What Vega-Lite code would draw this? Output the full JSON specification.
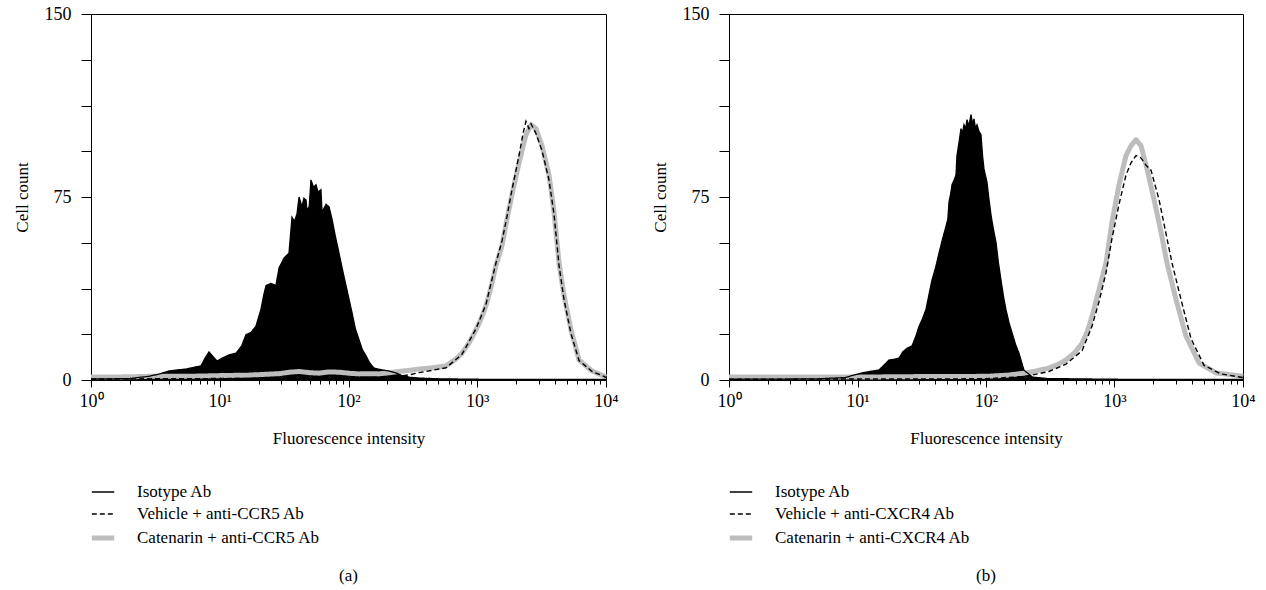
{
  "$schema": "https://vega.github.io/schema/vega-lite/v6.json",
  "background": "white",
  "padding": {"left": 12, "top": 4, "right": 10, "bottom": 5},
  "config": {
    "font": "Liberation Serif",
    "view": {"stroke": "#000", "strokeWidth": 1},
    "axis": {"domainColor": "#000", "tickColor": "#000", "labelColor": "#000", "titleColor": "#000", "labelFontSize": 18, "titleFontSize": 17, "titleFontWeight": "normal", "labelFont": "Liberation Serif", "titleFont": "Liberation Serif", "domainWidth": 1, "tickWidth": 1, "grid": false},
    "legend": {"symbolType": "stroke", "symbolSize": 500, "labelFontSize": 17, "labelOffset": 20, "rowPadding": 2, "labelColor": "#000", "labelFont": "Liberation Serif", "labelLimit": 400, "symbolOpacity": 1},
    "title": {"fontSize": 17, "fontWeight": "normal", "font": "Liberation Serif", "color": "#000"}
  },
  "datasets": {
    "a": [
      {"x":1,"y":0.4,"s":"Isotype Ab"},{"x":1.5,"y":0.5,"s":"Isotype Ab"},{"x":2,"y":0.6,"s":"Isotype Ab"},{"x":2.5,"y":1.2,"s":"Isotype Ab"},{"x":2.82,"y":1.5,"s":"Isotype Ab"},{"x":3.4,"y":2.5,"s":"Isotype Ab"},{"x":4.03,"y":3.7,"s":"Isotype Ab"},{"x":4.8,"y":4.2,"s":"Isotype Ab"},{"x":5.5,"y":4.5,"s":"Isotype Ab"},{"x":6.3,"y":5.2,"s":"Isotype Ab"},{"x":7.15,"y":5.8,"s":"Isotype Ab"},{"x":7.7,"y":9,"s":"Isotype Ab"},{"x":8.25,"y":11.5,"s":"Isotype Ab"},{"x":8.9,"y":9.5,"s":"Isotype Ab"},{"x":9.52,"y":7.8,"s":"Isotype Ab"},{"x":10.5,"y":9,"s":"Isotype Ab"},{"x":11.8,"y":10.3,"s":"Isotype Ab"},{"x":13.4,"y":11,"s":"Isotype Ab"},{"x":14.8,"y":14,"s":"Isotype Ab"},{"x":16,"y":18.6,"s":"Isotype Ab"},{"x":17.5,"y":19.5,"s":"Isotype Ab"},{"x":19.1,"y":22,"s":"Isotype Ab"},{"x":20.9,"y":29,"s":"Isotype Ab"},{"x":22,"y":35,"s":"Isotype Ab"},{"x":22.9,"y":38.7,"s":"Isotype Ab"},{"x":25,"y":39.6,"s":"Isotype Ab"},{"x":27.3,"y":38.7,"s":"Isotype Ab"},{"x":28.9,"y":46,"s":"Isotype Ab"},{"x":31.6,"y":50,"s":"Isotype Ab"},{"x":34.5,"y":52,"s":"Isotype Ab"},{"x":36.4,"y":66.7,"s":"Isotype Ab"},{"x":38,"y":65,"s":"Isotype Ab"},{"x":39.8,"y":68,"s":"Isotype Ab"},{"x":41.3,"y":75,"s":"Isotype Ab"},{"x":43.5,"y":71,"s":"Isotype Ab"},{"x":45,"y":74.5,"s":"Isotype Ab"},{"x":46.8,"y":73.7,"s":"Isotype Ab"},{"x":47.6,"y":69.6,"s":"Isotype Ab"},{"x":49.5,"y":71,"s":"Isotype Ab"},{"x":51.1,"y":82,"s":"Isotype Ab"},{"x":53.5,"y":79,"s":"Isotype Ab"},{"x":55.9,"y":80,"s":"Isotype Ab"},{"x":58,"y":77,"s":"Isotype Ab"},{"x":61.1,"y":78,"s":"Isotype Ab"},{"x":62.3,"y":68.8,"s":"Isotype Ab"},{"x":66.9,"y":72,"s":"Isotype Ab"},{"x":70.6,"y":71,"s":"Isotype Ab"},{"x":74.4,"y":66,"s":"Isotype Ab"},{"x":79,"y":59,"s":"Isotype Ab"},{"x":84.4,"y":52,"s":"Isotype Ab"},{"x":90,"y":45,"s":"Isotype Ab"},{"x":95.6,"y":38.7,"s":"Isotype Ab"},{"x":106.5,"y":27.6,"s":"Isotype Ab"},{"x":113,"y":21,"s":"Isotype Ab"},{"x":120.7,"y":16.5,"s":"Isotype Ab"},{"x":128,"y":12.5,"s":"Isotype Ab"},{"x":136.8,"y":9.9,"s":"Isotype Ab"},{"x":146,"y":7,"s":"Isotype Ab"},{"x":157.8,"y":4.9,"s":"Isotype Ab"},{"x":180,"y":4.2,"s":"Isotype Ab"},{"x":206.4,"y":3.7,"s":"Isotype Ab"},{"x":233.8,"y":2.9,"s":"Isotype Ab"},{"x":260,"y":1.8,"s":"Isotype Ab"},{"x":300,"y":1.1,"s":"Isotype Ab"},{"x":350,"y":0.8,"s":"Isotype Ab"},{"x":500,"y":0.5,"s":"Isotype Ab"},{"x":1000,"y":0.3,"s":"Isotype Ab"},{"x":3000,"y":0.2,"s":"Isotype Ab"},{"x":10000,"y":0.2,"s":"Isotype Ab"},
      {"x":1,"y":1.2,"s":"Catenarin + anti-CCR5 Ab"},{"x":2,"y":1.3,"s":"Catenarin + anti-CCR5 Ab"},{"x":2.82,"y":1.5,"s":"Catenarin + anti-CCR5 Ab"},{"x":5,"y":1.5,"s":"Catenarin + anti-CCR5 Ab"},{"x":6.9,"y":1.6,"s":"Catenarin + anti-CCR5 Ab"},{"x":10,"y":1.8,"s":"Catenarin + anti-CCR5 Ab"},{"x":16.8,"y":2,"s":"Catenarin + anti-CCR5 Ab"},{"x":22,"y":2.3,"s":"Catenarin + anti-CCR5 Ab"},{"x":28.9,"y":2.6,"s":"Catenarin + anti-CCR5 Ab"},{"x":35,"y":3.2,"s":"Catenarin + anti-CCR5 Ab"},{"x":41.3,"y":3.5,"s":"Catenarin + anti-CCR5 Ab"},{"x":50,"y":3,"s":"Catenarin + anti-CCR5 Ab"},{"x":59,"y":2.8,"s":"Catenarin + anti-CCR5 Ab"},{"x":70,"y":3.3,"s":"Catenarin + anti-CCR5 Ab"},{"x":84.4,"y":3.2,"s":"Catenarin + anti-CCR5 Ab"},{"x":100,"y":2.8,"s":"Catenarin + anti-CCR5 Ab"},{"x":120.7,"y":2.5,"s":"Catenarin + anti-CCR5 Ab"},{"x":150,"y":2.6,"s":"Catenarin + anti-CCR5 Ab"},{"x":172,"y":2.5,"s":"Catenarin + anti-CCR5 Ab"},{"x":210,"y":3,"s":"Catenarin + anti-CCR5 Ab"},{"x":246,"y":3.5,"s":"Catenarin + anti-CCR5 Ab"},{"x":300,"y":4,"s":"Catenarin + anti-CCR5 Ab"},{"x":353,"y":4.5,"s":"Catenarin + anti-CCR5 Ab"},{"x":450,"y":5,"s":"Catenarin + anti-CCR5 Ab"},{"x":571.9,"y":5.8,"s":"Catenarin + anti-CCR5 Ab"},{"x":680,"y":8.5,"s":"Catenarin + anti-CCR5 Ab"},{"x":761.5,"y":11,"s":"Catenarin + anti-CCR5 Ab"},{"x":870,"y":15.5,"s":"Catenarin + anti-CCR5 Ab"},{"x":977.9,"y":20.6,"s":"Catenarin + anti-CCR5 Ab"},{"x":1070,"y":25,"s":"Catenarin + anti-CCR5 Ab"},{"x":1169.5,"y":30.5,"s":"Catenarin + anti-CCR5 Ab"},{"x":1280,"y":38,"s":"Catenarin + anti-CCR5 Ab"},{"x":1398.3,"y":47,"s":"Catenarin + anti-CCR5 Ab"},{"x":1556.6,"y":55,"s":"Catenarin + anti-CCR5 Ab"},{"x":1702.5,"y":66,"s":"Catenarin + anti-CCR5 Ab"},{"x":1861.9,"y":76,"s":"Catenarin + anti-CCR5 Ab"},{"x":2110,"y":89,"s":"Catenarin + anti-CCR5 Ab"},{"x":2390,"y":100.5,"s":"Catenarin + anti-CCR5 Ab"},{"x":2615.6,"y":104.6,"s":"Catenarin + anti-CCR5 Ab"},{"x":2860,"y":103,"s":"Catenarin + anti-CCR5 Ab"},{"x":3184,"y":96,"s":"Catenarin + anti-CCR5 Ab"},{"x":3608,"y":84,"s":"Catenarin + anti-CCR5 Ab"},{"x":3946,"y":69,"s":"Catenarin + anti-CCR5 Ab"},{"x":4315,"y":48,"s":"Catenarin + anti-CCR5 Ab"},{"x":4719,"y":34.6,"s":"Catenarin + anti-CCR5 Ab"},{"x":5348,"y":20.6,"s":"Catenarin + anti-CCR5 Ab"},{"x":6172,"y":8.2,"s":"Catenarin + anti-CCR5 Ab"},{"x":7786,"y":3.7,"s":"Catenarin + anti-CCR5 Ab"},{"x":9649,"y":1.6,"s":"Catenarin + anti-CCR5 Ab"},{"x":10000,"y":1.2,"s":"Catenarin + anti-CCR5 Ab"},
      {"x":1,"y":0.4,"s":"Vehicle + anti-CCR5 Ab"},{"x":3,"y":0.5,"s":"Vehicle + anti-CCR5 Ab"},{"x":10,"y":0.6,"s":"Vehicle + anti-CCR5 Ab"},{"x":30,"y":0.7,"s":"Vehicle + anti-CCR5 Ab"},{"x":100,"y":0.6,"s":"Vehicle + anti-CCR5 Ab"},{"x":200,"y":1.2,"s":"Vehicle + anti-CCR5 Ab"},{"x":246,"y":1.5,"s":"Vehicle + anti-CCR5 Ab"},{"x":300,"y":2.2,"s":"Vehicle + anti-CCR5 Ab"},{"x":353,"y":3,"s":"Vehicle + anti-CCR5 Ab"},{"x":450,"y":4,"s":"Vehicle + anti-CCR5 Ab"},{"x":572,"y":5,"s":"Vehicle + anti-CCR5 Ab"},{"x":761,"y":10.5,"s":"Vehicle + anti-CCR5 Ab"},{"x":978,"y":21,"s":"Vehicle + anti-CCR5 Ab"},{"x":1169,"y":31,"s":"Vehicle + anti-CCR5 Ab"},{"x":1398,"y":48,"s":"Vehicle + anti-CCR5 Ab"},{"x":1557,"y":57,"s":"Vehicle + anti-CCR5 Ab"},{"x":1702,"y":67,"s":"Vehicle + anti-CCR5 Ab"},{"x":1862,"y":78,"s":"Vehicle + anti-CCR5 Ab"},{"x":2110,"y":92,"s":"Vehicle + anti-CCR5 Ab"},{"x":2266,"y":101,"s":"Vehicle + anti-CCR5 Ab"},{"x":2390,"y":106,"s":"Vehicle + anti-CCR5 Ab"},{"x":2522,"y":103,"s":"Vehicle + anti-CCR5 Ab"},{"x":2616,"y":105,"s":"Vehicle + anti-CCR5 Ab"},{"x":2860,"y":101,"s":"Vehicle + anti-CCR5 Ab"},{"x":3184,"y":94,"s":"Vehicle + anti-CCR5 Ab"},{"x":3608,"y":82,"s":"Vehicle + anti-CCR5 Ab"},{"x":3946,"y":68,"s":"Vehicle + anti-CCR5 Ab"},{"x":4315,"y":47,"s":"Vehicle + anti-CCR5 Ab"},{"x":4719,"y":33,"s":"Vehicle + anti-CCR5 Ab"},{"x":5348,"y":19,"s":"Vehicle + anti-CCR5 Ab"},{"x":6172,"y":8,"s":"Vehicle + anti-CCR5 Ab"},{"x":7786,"y":3.5,"s":"Vehicle + anti-CCR5 Ab"},{"x":9649,"y":1.5,"s":"Vehicle + anti-CCR5 Ab"},{"x":10000,"y":1,"s":"Vehicle + anti-CCR5 Ab"}
    ],
    "b": [
      {"x":1,"y":0.3,"s":"Isotype Ab"},{"x":3,"y":0.4,"s":"Isotype Ab"},{"x":5,"y":0.5,"s":"Isotype Ab"},{"x":8,"y":1,"s":"Isotype Ab"},{"x":10.84,"y":2.9,"s":"Isotype Ab"},{"x":12.5,"y":3.5,"s":"Isotype Ab"},{"x":14.7,"y":4.1,"s":"Isotype Ab"},{"x":16,"y":6,"s":"Isotype Ab"},{"x":17.59,"y":8.2,"s":"Isotype Ab"},{"x":19.5,"y":8.5,"s":"Isotype Ab"},{"x":21.04,"y":9,"s":"Isotype Ab"},{"x":22.5,"y":11.5,"s":"Isotype Ab"},{"x":24.28,"y":13,"s":"Isotype Ab"},{"x":26.56,"y":14,"s":"Isotype Ab"},{"x":28.5,"y":18,"s":"Isotype Ab"},{"x":30.11,"y":22,"s":"Isotype Ab"},{"x":32,"y":25,"s":"Isotype Ab"},{"x":34.13,"y":29,"s":"Isotype Ab"},{"x":36,"y":35,"s":"Isotype Ab"},{"x":38,"y":41,"s":"Isotype Ab"},{"x":40.5,"y":46,"s":"Isotype Ab"},{"x":43.08,"y":52,"s":"Isotype Ab"},{"x":46,"y":58,"s":"Isotype Ab"},{"x":48.85,"y":63,"s":"Isotype Ab"},{"x":50.5,"y":66,"s":"Isotype Ab"},{"x":51.54,"y":73,"s":"Isotype Ab"},{"x":53,"y":76,"s":"Isotype Ab"},{"x":54.38,"y":80,"s":"Isotype Ab"},{"x":56.5,"y":82,"s":"Isotype Ab"},{"x":58.41,"y":84,"s":"Isotype Ab"},{"x":59.47,"y":92,"s":"Isotype Ab"},{"x":61.5,"y":97,"s":"Isotype Ab"},{"x":63.89,"y":103,"s":"Isotype Ab"},{"x":65.5,"y":101,"s":"Isotype Ab"},{"x":67.42,"y":104.6,"s":"Isotype Ab"},{"x":69.5,"y":103,"s":"Isotype Ab"},{"x":71.14,"y":106.7,"s":"Isotype Ab"},{"x":73.5,"y":104,"s":"Isotype Ab"},{"x":76.43,"y":108.8,"s":"Isotype Ab"},{"x":78.5,"y":105,"s":"Isotype Ab"},{"x":80.65,"y":107,"s":"Isotype Ab"},{"x":83,"y":103,"s":"Isotype Ab"},{"x":85.11,"y":104.6,"s":"Isotype Ab"},{"x":88,"y":102,"s":"Isotype Ab"},{"x":91.43,"y":100.5,"s":"Isotype Ab"},{"x":94,"y":92,"s":"Isotype Ab"},{"x":96.47,"y":86.5,"s":"Isotype Ab"},{"x":101.8,"y":81,"s":"Isotype Ab"},{"x":105.5,"y":74,"s":"Isotype Ab"},{"x":109.4,"y":67.6,"s":"Isotype Ab"},{"x":114,"y":62,"s":"Isotype Ab"},{"x":119.6,"y":56.4,"s":"Isotype Ab"},{"x":125,"y":48,"s":"Isotype Ab"},{"x":130.8,"y":41,"s":"Isotype Ab"},{"x":137,"y":34,"s":"Isotype Ab"},{"x":143.1,"y":28.8,"s":"Isotype Ab"},{"x":151,"y":23.5,"s":"Isotype Ab"},{"x":159.4,"y":19.4,"s":"Isotype Ab"},{"x":170,"y":14.5,"s":"Isotype Ab"},{"x":180.6,"y":11,"s":"Isotype Ab"},{"x":190,"y":7,"s":"Isotype Ab"},{"x":197.6,"y":4,"s":"Isotype Ab"},{"x":208.5,"y":3,"s":"Isotype Ab"},{"x":230,"y":1.2,"s":"Isotype Ab"},{"x":300,"y":0.6,"s":"Isotype Ab"},{"x":1000,"y":0.3,"s":"Isotype Ab"},{"x":10000,"y":0.2,"s":"Isotype Ab"},
      {"x":1,"y":1.2,"s":"Catenarin + anti-CXCR4 Ab"},{"x":3,"y":1.2,"s":"Catenarin + anti-CXCR4 Ab"},{"x":10,"y":1.2,"s":"Catenarin + anti-CXCR4 Ab"},{"x":30,"y":1.4,"s":"Catenarin + anti-CXCR4 Ab"},{"x":100,"y":1.5,"s":"Catenarin + anti-CXCR4 Ab"},{"x":150,"y":2,"s":"Catenarin + anti-CXCR4 Ab"},{"x":204.8,"y":2.9,"s":"Catenarin + anti-CXCR4 Ab"},{"x":250,"y":3.8,"s":"Catenarin + anti-CXCR4 Ab"},{"x":309.3,"y":4.9,"s":"Catenarin + anti-CXCR4 Ab"},{"x":360,"y":6.3,"s":"Catenarin + anti-CXCR4 Ab"},{"x":419.4,"y":8.2,"s":"Catenarin + anti-CXCR4 Ab"},{"x":490,"y":11.2,"s":"Catenarin + anti-CXCR4 Ab"},{"x":558.5,"y":15,"s":"Catenarin + anti-CXCR4 Ab"},{"x":615,"y":20,"s":"Catenarin + anti-CXCR4 Ab"},{"x":668.2,"y":26,"s":"Catenarin + anti-CXCR4 Ab"},{"x":757.5,"y":37,"s":"Catenarin + anti-CXCR4 Ab"},{"x":858.9,"y":48,"s":"Catenarin + anti-CXCR4 Ab"},{"x":956.2,"y":64.7,"s":"Catenarin + anti-CXCR4 Ab"},{"x":1084,"y":80,"s":"Catenarin + anti-CXCR4 Ab"},{"x":1229,"y":92,"s":"Catenarin + anti-CXCR4 Ab"},{"x":1344,"y":96,"s":"Catenarin + anti-CXCR4 Ab"},{"x":1470,"y":98.5,"s":"Catenarin + anti-CXCR4 Ab"},{"x":1608,"y":96,"s":"Catenarin + anti-CXCR4 Ab"},{"x":1790,"y":86.5,"s":"Catenarin + anti-CXCR4 Ab"},{"x":2030,"y":74,"s":"Catenarin + anti-CXCR4 Ab"},{"x":2301,"y":60.6,"s":"Catenarin + anti-CXCR4 Ab"},{"x":2562,"y":48,"s":"Catenarin + anti-CXCR4 Ab"},{"x":3011,"y":33,"s":"Catenarin + anti-CXCR4 Ab"},{"x":3600,"y":18,"s":"Catenarin + anti-CXCR4 Ab"},{"x":4546,"y":7,"s":"Catenarin + anti-CXCR4 Ab"},{"x":6166,"y":2.9,"s":"Catenarin + anti-CXCR4 Ab"},{"x":9822,"y":1.6,"s":"Catenarin + anti-CXCR4 Ab"},{"x":10000,"y":1.5,"s":"Catenarin + anti-CXCR4 Ab"},
      {"x":1,"y":0.3,"s":"Vehicle + anti-CXCR4 Ab"},{"x":10,"y":0.4,"s":"Vehicle + anti-CXCR4 Ab"},{"x":100,"y":0.5,"s":"Vehicle + anti-CXCR4 Ab"},{"x":205,"y":1.5,"s":"Vehicle + anti-CXCR4 Ab"},{"x":309,"y":3.5,"s":"Vehicle + anti-CXCR4 Ab"},{"x":419,"y":6.5,"s":"Vehicle + anti-CXCR4 Ab"},{"x":559,"y":12,"s":"Vehicle + anti-CXCR4 Ab"},{"x":668,"y":22,"s":"Vehicle + anti-CXCR4 Ab"},{"x":757,"y":32,"s":"Vehicle + anti-CXCR4 Ab"},{"x":859,"y":44,"s":"Vehicle + anti-CXCR4 Ab"},{"x":956,"y":58,"s":"Vehicle + anti-CXCR4 Ab"},{"x":1084,"y":72,"s":"Vehicle + anti-CXCR4 Ab"},{"x":1229,"y":84,"s":"Vehicle + anti-CXCR4 Ab"},{"x":1344,"y":89,"s":"Vehicle + anti-CXCR4 Ab"},{"x":1470,"y":92,"s":"Vehicle + anti-CXCR4 Ab"},{"x":1608,"y":91,"s":"Vehicle + anti-CXCR4 Ab"},{"x":1759,"y":88,"s":"Vehicle + anti-CXCR4 Ab"},{"x":1923,"y":86,"s":"Vehicle + anti-CXCR4 Ab"},{"x":2220,"y":74,"s":"Vehicle + anti-CXCR4 Ab"},{"x":2516,"y":60,"s":"Vehicle + anti-CXCR4 Ab"},{"x":2802,"y":48,"s":"Vehicle + anti-CXCR4 Ab"},{"x":3293,"y":33,"s":"Vehicle + anti-CXCR4 Ab"},{"x":3938,"y":17,"s":"Vehicle + anti-CXCR4 Ab"},{"x":4972,"y":6,"s":"Vehicle + anti-CXCR4 Ab"},{"x":6743,"y":2.5,"s":"Vehicle + anti-CXCR4 Ab"},{"x":10000,"y":1,"s":"Vehicle + anti-CXCR4 Ab"}
    ]
  },
  "spacing": 123,
  "bounds": "flush",
  "resolve": {
    "scale": {"color": "independent", "strokeDash": "independent", "strokeWidth": "independent"},
    "legend": {"color": "independent", "strokeDash": "independent", "strokeWidth": "independent"}
  },
  "hconcat": [
    {
      "width": 515, "height": 366,
      "data": {"name": "a"},
      "title": {"text": "(a)", "orient": "bottom", "offset": 20},
      "encoding": {
        "x": {"field": "x", "type": "quantitative", "scale": {"type": "log", "domain": [1, 10000], "nice": false},
          "axis": {"title": "Fluorescence intensity", "orient": "bottom", "values": [1, 10, 100, 1000, 10000], "labelExpr": "datum.value == 1 ? '10⁰' : datum.value == 10 ? '10¹' : datum.value == 100 ? '10²' : datum.value == 1000 ? '10³' : '10⁴'", "tickSize": 7, "labelPadding": 5, "titlePadding": 20, "labelFlush": false, "labelOverlap": false}},
        "y": {"field": "y", "type": "quantitative", "scale": {"domain": [0, 150], "nice": false},
          "axis": {"title": "Cell count", "values": [0, 18.75, 37.5, 56.25, 75, 93.75, 112.5, 131.25, 150], "labelExpr": "datum.value % 75 == 0 ? format(datum.value, 'd') : ''", "tickSize": 10, "labelPadding": 10, "titlePadding": 13, "labelOverlap": false}}
      },
      "layer": [
        {"transform": [{"filter": {"field": "s", "equal": "Isotype Ab"}}], "mark": {"type": "area", "color": "#000000", "interpolate": "linear"}},
        {"transform": [{"filter": {"field": "s", "equal": "Catenarin + anti-CCR5 Ab"}}], "mark": {"type": "line", "strokeJoin": "round"},
          "encoding": {
            "x": {"field": "x", "type": "quantitative", "scale": {"type": "log", "domain": [1, 10000], "nice": false},
              "axis": {"orient": "bottom", "values": [2,3,4,5,6,7,8,9,20,30,40,50,60,70,80,90,200,300,400,500,600,700,800,900,2000,3000,4000,5000,6000,7000,8000,9000], "labels": false, "domain": false, "title": null, "tickSize": 4}},
            "color": {"field": "s", "type": "nominal", "scale": {"domain": ["Isotype Ab", "Vehicle + anti-CCR5 Ab", "Catenarin + anti-CCR5 Ab"], "range": ["#000000", "#000000", "#bdbdbd"]}, "legend": {"title": null, "orient": "none", "legendX": -2, "legendY": 466}},
            "strokeDash": {"field": "s", "type": "nominal", "scale": {"domain": ["Isotype Ab", "Vehicle + anti-CCR5 Ab", "Catenarin + anti-CCR5 Ab"], "range": [[1, 0], [5, 3], [1, 0]]}, "legend": {"title": null, "orient": "none", "legendX": -2, "legendY": 466}},
            "strokeWidth": {"field": "s", "type": "ordinal", "scale": {"type": "ordinal", "domain": ["Isotype Ab", "Vehicle + anti-CCR5 Ab", "Catenarin + anti-CCR5 Ab"], "range": [1.3, 1.4, 5]}, "legend": {"title": null, "orient": "none", "legendX": -2, "legendY": 466}}
          }},
        {"transform": [{"filter": {"field": "s", "equal": "Vehicle + anti-CCR5 Ab"}}], "mark": {"type": "line"},
          "encoding": {
            "x": {"field": "x", "type": "quantitative", "scale": {"type": "log", "domain": [1, 10000], "nice": false}, "axis": null},
            "color": {"field": "s", "type": "nominal", "scale": {"domain": ["Isotype Ab", "Vehicle + anti-CCR5 Ab", "Catenarin + anti-CCR5 Ab"], "range": ["#000000", "#000000", "#bdbdbd"]}, "legend": {"title": null, "orient": "none", "legendX": -2, "legendY": 466}},
            "strokeDash": {"field": "s", "type": "nominal", "scale": {"domain": ["Isotype Ab", "Vehicle + anti-CCR5 Ab", "Catenarin + anti-CCR5 Ab"], "range": [[1, 0], [5, 3], [1, 0]]}, "legend": {"title": null, "orient": "none", "legendX": -2, "legendY": 466}},
            "strokeWidth": {"field": "s", "type": "ordinal", "scale": {"type": "ordinal", "domain": ["Isotype Ab", "Vehicle + anti-CCR5 Ab", "Catenarin + anti-CCR5 Ab"], "range": [1.3, 1.4, 5]}, "legend": {"title": null, "orient": "none", "legendX": -2, "legendY": 466}}
          }},
        {"transform": [{"filter": {"field": "s", "equal": "Isotype Ab"}}], "mark": {"type": "line"},
          "encoding": {
            "x": {"field": "x", "type": "quantitative", "scale": {"type": "log", "domain": [1, 10000], "nice": false}, "axis": null},
            "color": {"field": "s", "type": "nominal", "scale": {"domain": ["Isotype Ab", "Vehicle + anti-CCR5 Ab", "Catenarin + anti-CCR5 Ab"], "range": ["#000000", "#000000", "#bdbdbd"]}, "legend": {"title": null, "orient": "none", "legendX": -2, "legendY": 466}},
            "strokeDash": {"field": "s", "type": "nominal", "scale": {"domain": ["Isotype Ab", "Vehicle + anti-CCR5 Ab", "Catenarin + anti-CCR5 Ab"], "range": [[1, 0], [5, 3], [1, 0]]}, "legend": {"title": null, "orient": "none", "legendX": -2, "legendY": 466}},
            "strokeWidth": {"field": "s", "type": "ordinal", "scale": {"type": "ordinal", "domain": ["Isotype Ab", "Vehicle + anti-CCR5 Ab", "Catenarin + anti-CCR5 Ab"], "range": [1.3, 1.4, 5]}, "legend": {"title": null, "orient": "none", "legendX": -2, "legendY": 466}}
          }}
      ],
      "resolve": {"axis": {"x": "independent"}}
    },
    {
      "width": 514, "height": 366,
      "data": {"name": "b"},
      "title": {"text": "(b)", "orient": "bottom", "offset": 20},
      "encoding": {
        "x": {"field": "x", "type": "quantitative", "scale": {"type": "log", "domain": [1, 10000], "nice": false},
          "axis": {"title": "Fluorescence intensity", "orient": "bottom", "values": [1, 10, 100, 1000, 10000], "labelExpr": "datum.value == 1 ? '10⁰' : datum.value == 10 ? '10¹' : datum.value == 100 ? '10²' : datum.value == 1000 ? '10³' : '10⁴'", "tickSize": 7, "labelPadding": 5, "titlePadding": 20, "labelFlush": false, "labelOverlap": false}},
        "y": {"field": "y", "type": "quantitative", "scale": {"domain": [0, 150], "nice": false},
          "axis": {"title": "Cell count", "values": [0, 18.75, 37.5, 56.25, 75, 93.75, 112.5, 131.25, 150], "labelExpr": "datum.value % 75 == 0 ? format(datum.value, 'd') : ''", "tickSize": 10, "labelPadding": 10, "titlePadding": 13, "labelOverlap": false}}
      },
      "layer": [
        {"transform": [{"filter": {"field": "s", "equal": "Isotype Ab"}}], "mark": {"type": "area", "color": "#000000", "interpolate": "linear"}},
        {"transform": [{"filter": {"field": "s", "equal": "Catenarin + anti-CXCR4 Ab"}}], "mark": {"type": "line", "strokeJoin": "round"},
          "encoding": {
            "x": {"field": "x", "type": "quantitative", "scale": {"type": "log", "domain": [1, 10000], "nice": false},
              "axis": {"orient": "bottom", "values": [2,3,4,5,6,7,8,9,20,30,40,50,60,70,80,90,200,300,400,500,600,700,800,900,2000,3000,4000,5000,6000,7000,8000,9000], "labels": false, "domain": false, "title": null, "tickSize": 4}},
            "color": {"field": "s", "type": "nominal", "scale": {"domain": ["Isotype Ab", "Vehicle + anti-CXCR4 Ab", "Catenarin + anti-CXCR4 Ab"], "range": ["#000000", "#000000", "#bdbdbd"]}, "legend": {"title": null, "orient": "none", "legendX": -2, "legendY": 466}},
            "strokeDash": {"field": "s", "type": "nominal", "scale": {"domain": ["Isotype Ab", "Vehicle + anti-CXCR4 Ab", "Catenarin + anti-CXCR4 Ab"], "range": [[1, 0], [5, 3], [1, 0]]}, "legend": {"title": null, "orient": "none", "legendX": -2, "legendY": 466}},
            "strokeWidth": {"field": "s", "type": "ordinal", "scale": {"type": "ordinal", "domain": ["Isotype Ab", "Vehicle + anti-CXCR4 Ab", "Catenarin + anti-CXCR4 Ab"], "range": [1.3, 1.4, 5]}, "legend": {"title": null, "orient": "none", "legendX": -2, "legendY": 466}}
          }},
        {"transform": [{"filter": {"field": "s", "equal": "Vehicle + anti-CXCR4 Ab"}}], "mark": {"type": "line"},
          "encoding": {
            "x": {"field": "x", "type": "quantitative", "scale": {"type": "log", "domain": [1, 10000], "nice": false}, "axis": null},
            "color": {"field": "s", "type": "nominal", "scale": {"domain": ["Isotype Ab", "Vehicle + anti-CXCR4 Ab", "Catenarin + anti-CXCR4 Ab"], "range": ["#000000", "#000000", "#bdbdbd"]}, "legend": {"title": null, "orient": "none", "legendX": -2, "legendY": 466}},
            "strokeDash": {"field": "s", "type": "nominal", "scale": {"domain": ["Isotype Ab", "Vehicle + anti-CXCR4 Ab", "Catenarin + anti-CXCR4 Ab"], "range": [[1, 0], [5, 3], [1, 0]]}, "legend": {"title": null, "orient": "none", "legendX": -2, "legendY": 466}},
            "strokeWidth": {"field": "s", "type": "ordinal", "scale": {"type": "ordinal", "domain": ["Isotype Ab", "Vehicle + anti-CXCR4 Ab", "Catenarin + anti-CXCR4 Ab"], "range": [1.3, 1.4, 5]}, "legend": {"title": null, "orient": "none", "legendX": -2, "legendY": 466}}
          }},
        {"transform": [{"filter": {"field": "s", "equal": "Isotype Ab"}}], "mark": {"type": "line"},
          "encoding": {
            "x": {"field": "x", "type": "quantitative", "scale": {"type": "log", "domain": [1, 10000], "nice": false}, "axis": null},
            "color": {"field": "s", "type": "nominal", "scale": {"domain": ["Isotype Ab", "Vehicle + anti-CXCR4 Ab", "Catenarin + anti-CXCR4 Ab"], "range": ["#000000", "#000000", "#bdbdbd"]}, "legend": {"title": null, "orient": "none", "legendX": -2, "legendY": 466}},
            "strokeDash": {"field": "s", "type": "nominal", "scale": {"domain": ["Isotype Ab", "Vehicle + anti-CXCR4 Ab", "Catenarin + anti-CXCR4 Ab"], "range": [[1, 0], [5, 3], [1, 0]]}, "legend": {"title": null, "orient": "none", "legendX": -2, "legendY": 466}},
            "strokeWidth": {"field": "s", "type": "ordinal", "scale": {"type": "ordinal", "domain": ["Isotype Ab", "Vehicle + anti-CXCR4 Ab", "Catenarin + anti-CXCR4 Ab"], "range": [1.3, 1.4, 5]}, "legend": {"title": null, "orient": "none", "legendX": -2, "legendY": 466}}
          }}
      ],
      "resolve": {"axis": {"x": "independent"}}
    }
  ]
}
